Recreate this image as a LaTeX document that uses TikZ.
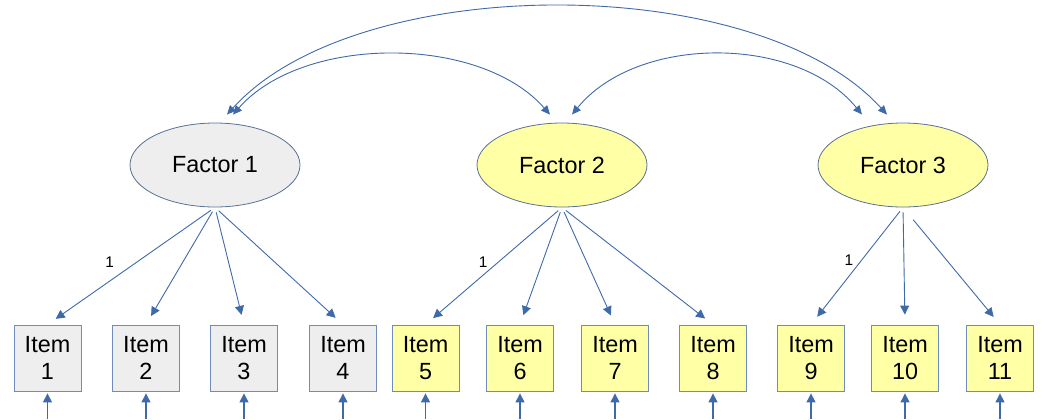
\documentclass[tikz,border=0pt]{standalone}
\usepackage{fontspec}
\setmainfont{Liberation Sans}
\usepackage{xcolor}
\usetikzlibrary{positioning,arrows.meta,shapes.geometric,calc}
\definecolor{pathcolor}{HTML}{3F6AAA}
\definecolor{edgecolor}{HTML}{6F8DBA}
\definecolor{latentgray}{HTML}{EEEEEE}
\definecolor{latentyellow}{HTML}{FFFFA6}
\tikzset{
  factor/.style={draw=edgecolor!80!black, ellipse, minimum width=85pt, minimum height=42pt, inner sep=0pt, font=\fontsize{11.7}{14}\selectfont},
  item/.style={draw=edgecolor, minimum width=33.5pt, minimum height=33pt, inner sep=0pt, align=center, font=\fontsize{11.7}{13.5}\selectfont},
  load/.style={-{Triangle[length=4.5pt,width=4.5pt]}, draw=pathcolor, line width=0.45pt, fill=none, shorten <=2.5pt, shorten >=5pt},
  err/.style={-{Triangle[length=4.5pt,width=4.5pt]}, draw=pathcolor, line width=0.6pt, shorten >=1pt},
  cov/.style={{Triangle[length=4.5pt,width=4pt]}-{Triangle[length=4.5pt,width=4pt]}, draw=pathcolor, line width=0.45pt},
  fix/.style={font=\fontsize{7.7}{9}\selectfont, inner sep=1pt},
}

\begin{document}
\begin{tikzpicture}[x=0.5pt, y=-0.5pt]
\useasboundingbox (0,0) rectangle (1047,419);
% latent factors
\node[factor, fill=latentgray] (f1) at (215,165) {Factor 1};
\node[factor, fill=latentyellow] (f2) at (562,165) {Factor 2};
\node[factor, fill=latentyellow] (f3) at (903,165) {Factor 3};
% indicators
\node[item, fill=latentgray] (i1) at (47.5,358) {Item\\1};
\node[item, fill=latentgray] (i2) at (146,358) {Item\\2};
\node[item, fill=latentgray] (i3) at (244,358) {Item\\3};
\node[item, fill=latentgray] (i4) at (343,358) {Item\\4};
\node[item, fill=latentyellow] (i5) at (425.5,358) {Item\\5};
\node[item, fill=latentyellow] (i6) at (520,358) {Item\\6};
\node[item, fill=latentyellow] (i7) at (615,358) {Item\\7};
\node[item, fill=latentyellow] (i8) at (713,358) {Item\\8};
\node[item, fill=latentyellow] (i9) at (811,358) {Item\\9};
\node[item, fill=latentyellow] (i10) at (905,358) {Item\\10};
\node[item, fill=latentyellow] (i11) at (1000,358) {Item\\11};
% loadings
\draw[load] (f1.south) -- (i1.north) node[fix, pos=0.47, left=10pt] {1};
\draw[load] (f1.south) -- (i2.north);
\draw[load] (f1.south) -- (i3.north);
\draw[load] (f1.south) -- (i4.north);
\draw[load] (f2.south) -- (i5.north) node[fix, pos=0.47, left=4pt] {1};
\draw[load] (f2.south) -- (i6.north);
\draw[load] (f2.south) -- (i7.north);
\draw[load] (f2.south) -- (i8.north);
\draw[load] (f3.south) -- (i9.north) node[fix, pos=0.45, left=3pt] {1};
\draw[load] (f3.south) -- (i10.north);
\draw[load, shorten <=8pt] (f3.south) -- (i11.north);
% residuals
\foreach \k in {1,...,11} {
  \coordinate (e\k) at ($(i\k.south)+(0,28)$);
  \draw[err] (e\k) -- (i\k.south);
}
% covariances
\coordinate (c12a) at ($(f1.north)+(18,-8)$);
\coordinate (c12b) at ($(f2.north)+(-12,-8)$);
\coordinate (c13a) at ($(f1.north)+(12,-8)$);
\coordinate (c13b) at ($(f3.north)+(-16,-8)$);
\coordinate (c23a) at ($(f2.north)+(10,-8)$);
\coordinate (c23b) at ($(f3.north)+(-41,-8)$);
\draw[cov] (c12a) .. controls +(70,-80) and +(-70,-80) .. (c12b);
\draw[cov] (c13a) .. controls +(130,-144) and +(-130,-144) .. (c13b);
\draw[cov] (c23a) .. controls +(65,-80) and +(-65,-80) .. (c23b);
\end{tikzpicture}
\end{document}
